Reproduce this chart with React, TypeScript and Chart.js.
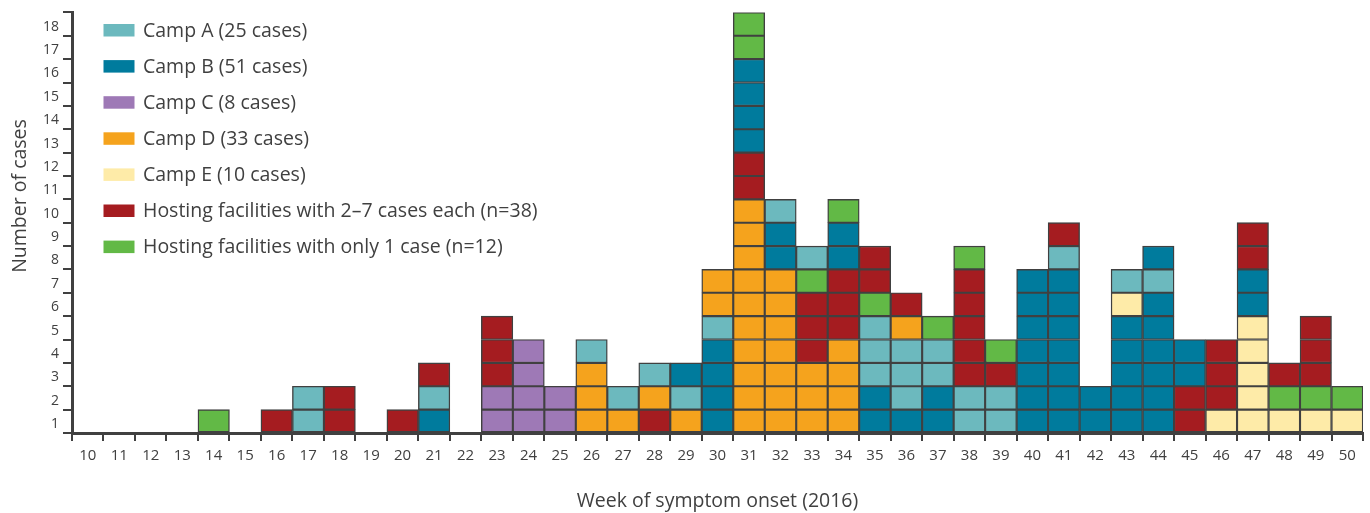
import React, { useEffect, useRef } from 'react';
import { Chart, registerables } from 'chart.js';

Chart.register(...registerables);

const weeks = [
  '10', '11', '12', '13', '14', '15', '16', '17', '18', '19', '20',
  '21', '22', '23', '24', '25', '26', '27', '28', '29', '30',
  '31', '32', '33', '34', '35', '36', '37', '38', '39', '40',
  '41', '42', '43', '44', '45', '46', '47', '48', '49', '50',
];

// one letter per case, bottom to top, for each week
const stacks = [
  '', '', '', '', 'G', '', 'H', 'AA', 'HH', '', 'H',
  'BAH', '', 'CCHHH', 'CCCC', 'CC', 'DDDA', 'DA', 'HDA', 'DAB', 'BBBBADD',
  'DDDDDDDDDDHHBBBBGG', 'DDDDDDDBBA', 'DDDHHHGA', 'DDDDHHHBBG', 'BBAAAGHH', 'BAAADH', 'BBAAG', 'AAHHHHHG', 'AAHG', 'BBBBBBB',
  'BBBBBBBAH', 'BB', 'BBBBBEA', 'BBBBBBAB', 'HHBB', 'EHHH', 'EEEEEBBHH', 'EGH', 'EGHHH', 'EG',
];

const seriesCodes = ['A', 'B', 'C', 'D', 'E', 'H', 'G'];
const seriesLabels = [
  'Camp A (25 cases)',
  'Camp B (51 cases)',
  'Camp C (8 cases)',
  'Camp D (33 cases)',
  'Camp E (10 cases)',
  'Hosting facilities with 2\u20137 cases each (n=38)',
  'Hosting facilities with only 1 case (n=12)',
];
const seriesColors = ['#6cb9be', '#007b9d', '#9e79b6', '#f5a31d', '#feeba8', '#a51c20', '#62b946'];

const yTickLabels = ['1', '2', '3', '4', '5', '6', '7', '8', '9', '10', '11', '12', '13', '14', '15', '16', '17', '18'];

const xTitle = 'Week of symptom onset (2016)';
const yTitle = 'Number of cases';

const FONT = '"Open Sans", "DejaVu Sans", sans-serif';
const TEXT = '#404040';

const colorOf = (code: string | undefined) => {
  if (!code) return 'rgba(0,0,0,0)';
  const i = seriesCodes.indexOf(code);
  return i >= 0 ? seriesColors[i] : 'rgba(0,0,0,0)';
};

const overlayPlugin = {
  id: 'overlay',
  afterDraw(chart: any) {
    const ctx = chart.ctx as CanvasRenderingContext2D;
    ctx.save();
    // legend
    ctx.font = `19.5px ${FONT}`;
    ctx.textBaseline = 'middle';
    ctx.textAlign = 'left';
    seriesLabels.forEach((label, i) => {
      const y = 31 + i * 36.1;
      ctx.fillStyle = seriesColors[i];
      ctx.fillRect(103.5, y - 7, 31, 12.5);
      ctx.fillStyle = TEXT;
      ctx.fillText(label, 143, y);
    });
    // y title
    ctx.translate(20, 196);
    ctx.rotate(-Math.PI / 2);
    ctx.textAlign = 'center';
    ctx.textBaseline = 'middle';
    ctx.font = `19.5px ${FONT}`;
    ctx.fillStyle = TEXT;
    ctx.fillText(yTitle, 0, 0);
    ctx.restore();
  },
};

export default function App() {
  const canvasRef = useRef<HTMLCanvasElement | null>(null);

  useEffect(() => {
    const canvas = canvasRef.current;
    if (!canvas) return;
    const maxLayers = Math.max(...stacks.map((s) => s.length));
    const datasets = [] as any[];
    for (let k = 0; k < maxLayers; k++) {
      datasets.push({
        label: `layer ${k + 1}`,
        data: stacks.map((s) => (s.length > k ? 1 : null)),
        backgroundColor: stacks.map((s) => colorOf(s[k])),
        borderColor: '#404040',
        borderWidth: 1.4,
        borderSkipped: false,
        barPercentage: 1,
        categoryPercentage: 1,
      });
    }

    const chart = new Chart(canvas, {
      type: 'bar',
      data: { labels: weeks, datasets },
      options: {
        animation: false,
        responsive: false,
        maintainAspectRatio: false,
        layout: { padding: { left: 0, top: 12, right: 7, bottom: 0 } },
        plugins: {
          legend: { display: false },
          tooltip: { enabled: false },
        },
        scales: {
          x: {
            stacked: true,
            offset: true,
            afterFit: (scale: any) => {
              scale.height = 80;
            },
            grid: {
              offset: true,
              drawOnChartArea: false,
              drawTicks: true,
              tickLength: 8,
              color: '#404040',
              lineWidth: 2,
            },
            border: { display: true, color: '#404040', width: 3 },
            ticks: {
              autoSkip: false,
              maxRotation: 0,
              padding: 6,
              color: TEXT,
              font: { family: FONT, size: 15 },
            },
            title: {
              display: true,
              text: xTitle,
              color: TEXT,
              font: { family: FONT, size: 19.5 },
              padding: { top: 0, bottom: 0 },
            },
          },
          y: {
            stacked: true,
            min: 0,
            max: 18,
            afterFit: (scale: any) => {
              scale.width = 72;
            },
            grid: {
              drawOnChartArea: false,
              drawTicks: true,
              tickLength: 9,
              color: '#404040',
              lineWidth: 2,
            },
            border: { display: true, color: '#404040', width: 3 },
            ticks: {
              stepSize: 1,
              autoSkip: false,
              padding: 4,
              labelOffset: -9,
              color: TEXT,
              font: { family: FONT, size: 14 },
              callback: (value: any) => {
                const v = Number(value);
                return v >= 0 && v < yTickLabels.length ? yTickLabels[v] : '';
              },
            },
          },
        },
      },
      plugins: [overlayPlugin],
    });

    return () => {
      chart.destroy();
    };
  }, []);

  return (
    <div style={{ position: 'fixed', left: 0, top: 0, width: 1370, height: 513, background: '#ffffff' }}>
      <canvas ref={canvasRef} width={1370} height={513} style={{ width: 1370, height: 513, display: 'block' }} />
    </div>
  );
}
